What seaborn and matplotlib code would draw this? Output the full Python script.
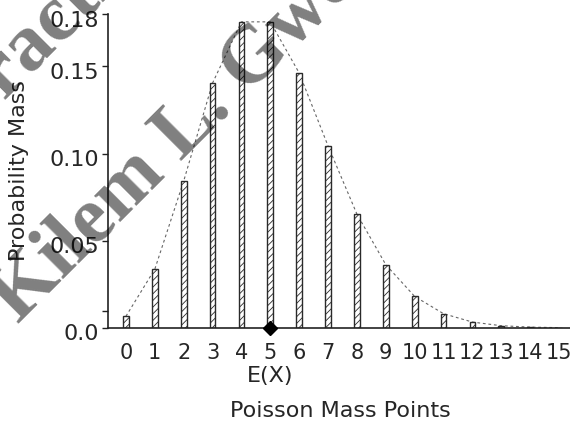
import numpy as np
import pandas as pd
import matplotlib
matplotlib.use("Agg")
import matplotlib.pyplot as plt
from matplotlib.transforms import ScaledTranslation
import seaborn as sns

# Poisson(5) mass points
points = list(range(16))
mass = [0.0067, 0.0337, 0.0842, 0.1404, 0.1755, 0.1755, 0.1462, 0.1044,
        0.0653, 0.0363, 0.0181, 0.0082, 0.0034, 0.0013, 0.0005, 0.0002]
expected_value = 5
ytick_values = [0.0, 0.01, 0.05, 0.10, 0.15, 0.18]
ytick_labels = ["0.0", "", "0.05", "0.10", "0.15", "0.18"]

sns.set_style("ticks")
plt.rcParams["font.family"] = ["DejaVu Sans"]
plt.rcParams["hatch.linewidth"] = 0.6

df = pd.DataFrame({"k": points, "p": mass})

fig = plt.figure(figsize=(5.70, 4.23), dpi=100)
ax = fig.add_axes([0.1895, 0.2246, 0.8105, 0.7423])

# dashed envelope through the tops of the bars
ax.plot(df["k"], df["p"], linestyle=(0, (2.5, 2.5)), color="#666666",
        linewidth=0.8, zorder=1)

sns.barplot(data=df, x="k", y="p", ax=ax, width=0.2, color="white",
            edgecolor="#2a2a2a", linewidth=1.0, native_scale=True,
            errorbar=None, zorder=2)
for bar in ax.patches:
    bar.set_hatch("/////")

# mean marker on the axis
ax.plot([expected_value], [0], marker="D", color="black", markersize=7,
        linestyle="none", clip_on=False, zorder=5)

ax.set_xlim(-0.62, 15.38)
ax.set_ylim(0, 0.18)
ax.set_xticks(points)
ax.set_xticklabels([str(k) for k in points], fontsize=15)
ax.set_yticks(ytick_values)
ax.set_yticklabels(ytick_labels, fontsize=16)
ax.tick_params(axis="x", length=0, pad=10.5)
ax.tick_params(axis="y", length=4.5, width=1.0, pad=2, color="#222222")
for lab in ax.get_yticklabels():
    lab.set_transform(lab.get_transform() +
                      ScaledTranslation(0, -0.045, fig.dpi_scale_trans))

ax.annotate("E(X)", xy=(expected_value, 0), xycoords=("data", "axes fraction"),
            xytext=(0, -38), textcoords="offset pixels", ha="center",
            va="top", fontsize=16)

ax.set_xlabel("Poisson Mass Points", fontsize=16)
ax.xaxis.set_label_coords(0.503, -0.232)
ax.set_ylabel("Probability Mass", fontsize=16)
ax.yaxis.set_label_coords(-0.170, 0.5)

sns.despine(ax=ax)
for side in ("left", "bottom"):
    ax.spines[side].set_linewidth(1.2)
    ax.spines[side].set_color("#222222")

# watermark lettering (translucent black reads as grey on white)
wm = dict(fontfamily="Liberation Serif", fontweight="bold", fontsize=58,
          color="black", alpha=0.5, rotation=45, rotation_mode="anchor",
          zorder=10)
fig.text(198 / 570, 1 - 145 / 423, "Kilem L. Gwet", ha="center",
         va="baseline", **wm)
fig.text(-30 / 570, 1 - 134 / 423, "Practical", ha="left",
         va="baseline", **wm)

fig.savefig("out.png", dpi=100)
